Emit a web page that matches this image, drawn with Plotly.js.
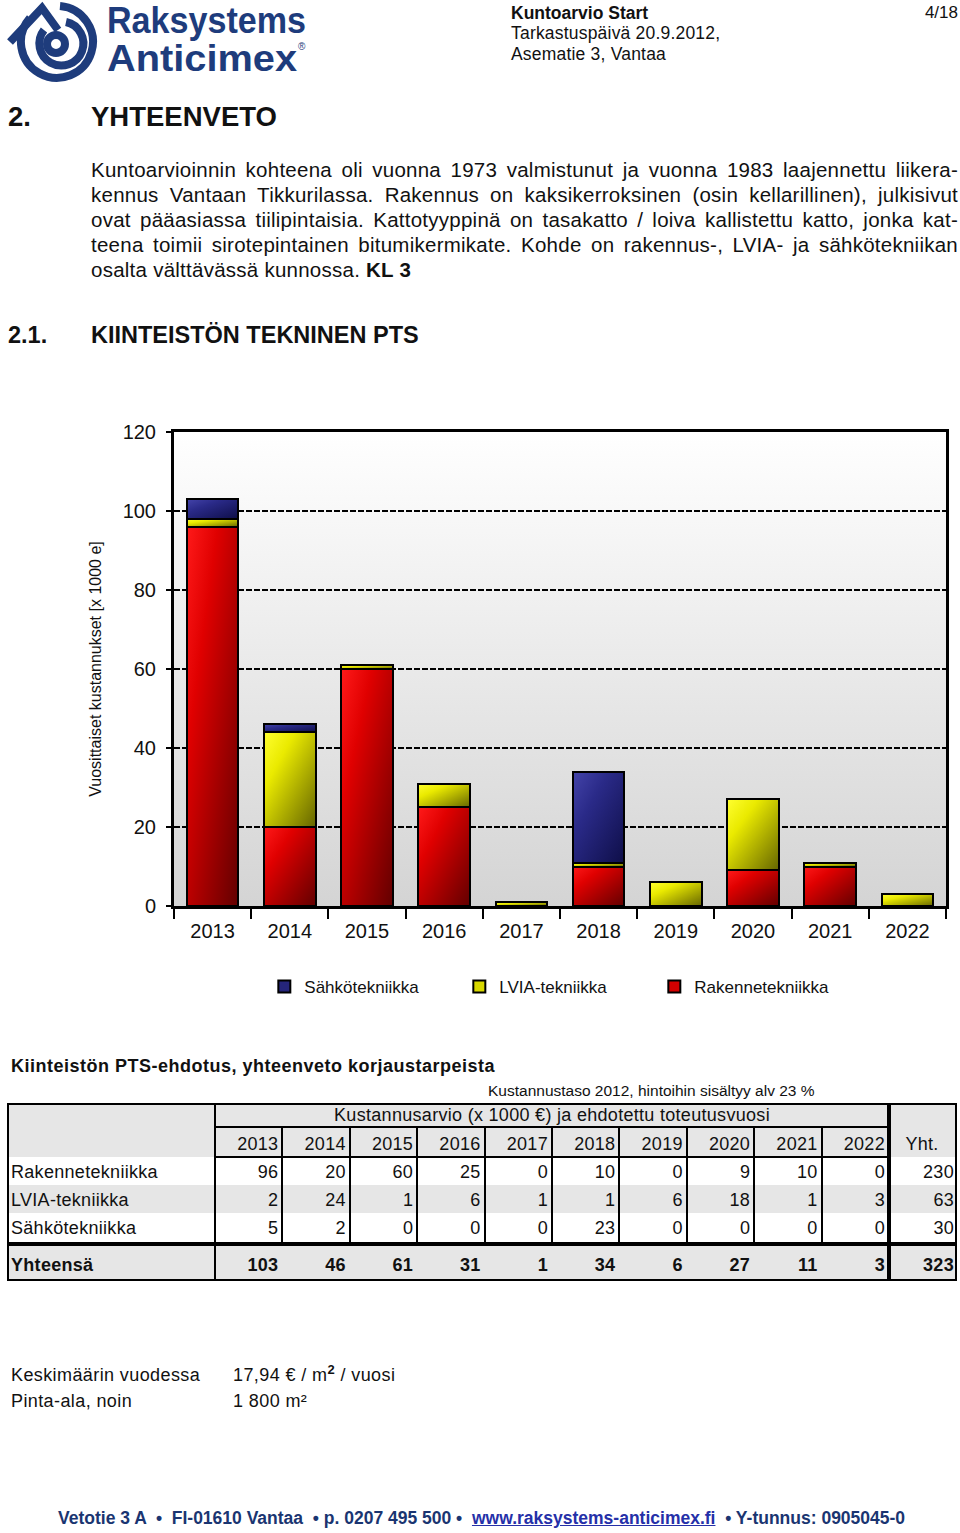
<!DOCTYPE html>
<html>
<head>
<meta charset="utf-8">
<script src="https://cdn.plot.ly/plotly-3.0.1.min.js"></script>
<style>
  html, body { margin:0; padding:0; background:#fff; }
  #page { position:relative; width:960px; height:1533px; overflow:hidden; font-family:"Liberation Sans", Arial, sans-serif; color:#111; }
  .t { position:absolute; white-space:nowrap; }
  .p { position:absolute; left:91px; width:867px; font-size:20.5px; line-height:25px; letter-spacing:0.25px; text-align:justify; text-align-last:justify; white-space:nowrap; }
  #chart { position:absolute; left:0; top:400px; width:960px; height:650px; }
</style>
</head>
<body>
<svg width="0" height="0" style="position:absolute">
  <defs>
    <linearGradient id="gradR" x1="0" y1="0" x2="1" y2="1">
      <stop offset="0" stop-color="#ff1a1a"/>
      <stop offset="0.3" stop-color="#e00000"/>
      <stop offset="1" stop-color="#620000"/>
    </linearGradient>
    <linearGradient id="gradY" x1="0" y1="0" x2="1" y2="1">
      <stop offset="0" stop-color="#ffff30"/>
      <stop offset="0.3" stop-color="#eaea00"/>
      <stop offset="1" stop-color="#656500"/>
    </linearGradient>
    <linearGradient id="gradB" x1="0" y1="0" x2="1" y2="1">
      <stop offset="0" stop-color="#4444aa"/>
      <stop offset="0.35" stop-color="#2a2a88"/>
      <stop offset="1" stop-color="#0e0e48"/>
    </linearGradient>
    <linearGradient id="gradBg" x1="0" y1="0" x2="0" y2="1">
      <stop offset="0" stop-color="#ffffff"/>
      <stop offset="1" stop-color="#d4d4d4"/>
    </linearGradient>
  </defs>
</svg>
<div id="page">
  <!-- logo -->
  <svg class="t" style="left:0;top:0" width="320" height="84">
    <g fill="none" stroke="#1e3c7c" stroke-width="8">
      <path d="M 30 18 A 36 36 0 1 0 60 6"/>
      <path d="M 44 30 A 22 22 0 1 0 66 22"/>
      <circle cx="56" cy="44" r="9"/>
      <path d="M 10 42 L 42 8 L 58 30" stroke-linejoin="miter"/>
    </g>
    <text x="107" y="33" font-family="Liberation Sans, Arial" font-weight="bold" font-size="36" fill="#1e3c7c" textLength="199" lengthAdjust="spacingAndGlyphs">Raksystems</text>
    <text x="107" y="71" font-family="Liberation Sans, Arial" font-weight="bold" font-size="36" fill="#1e3c7c" textLength="190" lengthAdjust="spacingAndGlyphs">Anticimex</text>
    <text x="298" y="50" font-family="Liberation Sans, Arial" font-size="10" fill="#1e3c7c">®</text>
  </svg>

  <div class="t" style="left:511px;top:3px;font-size:17.5px;line-height:20px;font-weight:bold">Kuntoarvio Start</div>
  <div class="t" style="left:511px;top:23px;font-size:17.5px;line-height:20px;letter-spacing:0.2px">Tarkastuspäivä 20.9.2012,</div>
  <div class="t" style="left:511px;top:44px;font-size:17.5px;line-height:20px;letter-spacing:0.2px">Asematie 3, Vantaa</div>
  <div class="t" style="right:2px;top:3px;font-size:17px;line-height:20px">4/18</div>

  <div class="t" style="left:8px;top:100px;font-size:27.5px;line-height:34px;font-weight:bold">2.</div>
  <div class="t" style="left:91px;top:100px;font-size:27.5px;line-height:34px;font-weight:bold">YHTEENVETO</div>

  <div class="p" style="top:157px">Kuntoarvioinnin kohteena oli vuonna 1973 valmistunut ja vuonna 1983 laajennettu liikera-</div>
  <div class="p" style="top:182px">kennus Vantaan Tikkurilassa. Rakennus on kaksikerroksinen (osin kellarillinen), julkisivut</div>
  <div class="p" style="top:207px">ovat pääasiassa tiilipintaisia. Kattotyyppinä on tasakatto / loiva kallistettu katto, jonka kat-</div>
  <div class="p" style="top:232px">teena toimii sirotepintainen bitumikermikate. Kohde on rakennus-, LVIA- ja sähkötekniikan</div>
  <div class="p" style="top:257px;text-align:left;text-align-last:left">osalta välttävässä kunnossa. <b>KL 3</b></div>

  <div class="t" style="left:8px;top:320px;font-size:23.5px;line-height:30px;font-weight:bold">2.1.</div>
  <div class="t" style="left:91px;top:320px;font-size:23.5px;line-height:30px;font-weight:bold">KIINTEISTÖN TEKNINEN PTS</div>

  <div id="chart"></div>

  <div class="t" style="left:11px;top:1055px;font-size:18px;line-height:22px;font-weight:bold;letter-spacing:0.5px">Kiinteistön PTS-ehdotus, yhteenveto korjaustarpeista</div>
  <div class="t" style="left:488px;top:1082px;font-size:15.5px;line-height:18px">Kustannustaso 2012, hintoihin sisältyy alv 23 %</div>
  <div id="table"></div>

  <div class="t" style="left:11px;top:1364px;font-size:18px;line-height:22px;letter-spacing:0.4px">Keskimäärin vuodessa</div>
  <div class="t" style="left:233px;top:1364px;font-size:18px;line-height:22px;letter-spacing:0.4px">17,94 € / m<sup style="font-size:13px;font-weight:bold;line-height:0">2</sup> / vuosi</div>
  <div class="t" style="left:11px;top:1390px;font-size:18px;line-height:22px;letter-spacing:0.4px">Pinta-ala, noin</div>
  <div class="t" style="left:233px;top:1390px;font-size:18px;line-height:22px;letter-spacing:0.4px">1 800 m²</div>

  <div class="t" style="left:58px;top:1507px;font-size:17.5px;line-height:22px;font-weight:bold;color:#1a3571">Vetotie 3 A &nbsp;•&nbsp; FI-01610 Vantaa &nbsp;• p. 0207 495 500 • &nbsp;<span style="color:#2530a8;text-decoration:underline">www.raksystems-anticimex.fi</span> &nbsp;• Y-tunnus: 0905045-0</div>
</div>

<script>
// ---- data ----
const years = ['2013','2014','2015','2016','2017','2018','2019','2020','2021','2022'];
const rakennetekniikka = [96, 20, 60, 25, 0, 10, 0, 9, 10, 0];
const lviaTekniikka    = [2, 24, 1, 6, 1, 1, 6, 18, 1, 3];
const sahkotekniikka   = [5, 2, 0, 0, 0, 23, 0, 0, 0, 0];
const seriesNames = ['Rakennetekniikka', 'LVIA-tekniikka', 'Sähkötekniikka'];
const yTitle = 'Vuosittaiset kustannukset [x 1000 e]';
const tableHeader = 'Kustannusarvio (x 1000 €) ja ehdotettu toteutusvuosi';
const totalLabel = 'Yhteensä';
const sumLabel = 'Yht.';

// ---- chart ----
const FONT = 'Liberation Sans, Arial, sans-serif';
const series = [rakennetekniikka, lviaTekniikka, sahkotekniikka];
const solid = ['#d40000', '#d8d800', '#25257a'];
const grads = ['url(#gradR)', 'url(#gradY)', 'url(#gradB)'];
const traces = series.map((vals, i) => ({
  type: 'bar', x: years, y: vals, name: seriesNames[i],
  marker: { color: solid[i], line: { color: '#000', width: 2 } },
  hoverinfo: 'skip'
}));

const layout = {
  width: 960, height: 650,
  margin: { l: 174, r: 14, t: 32, b: 144 },
  barmode: 'stack', bargap: 0.33,
  paper_bgcolor: 'rgba(0,0,0,0)', plot_bgcolor: '#eeeeee',
  font: { family: FONT, color: '#111', size: 20 },
  showlegend: true,
  legend: {
    orientation: 'h', x: 0.117, xanchor: 'left', y: -0.171, yanchor: 'middle',
    traceorder: 'reversed', font: { size: 17, family: FONT },
    entrywidth: 150, entrywidthmode: 'pixels', bgcolor: 'rgba(0,0,0,0)'
  },
  xaxis: {
    type: 'category', tickson: 'boundaries', ticks: 'outside', ticklen: 10, tickwidth: 2,
    tickcolor: '#000', showline: true, linecolor: '#000', linewidth: 3, mirror: true,
    showgrid: false, tickfont: { size: 20 }, ticklabelstandoff: 5, fixedrange: true
  },
  yaxis: {
    range: [0, 120], dtick: 20, tick0: 0, ticks: 'outside', ticklen: 5, tickwidth: 2, tickcolor: '#000',
    showline: true, linecolor: '#000', linewidth: 3, mirror: true,
    showgrid: true, gridcolor: '#000', gridwidth: 2, griddash: '6px,2px', zeroline: false,
    tickfont: { size: 20 }, ticklabelstandoff: 6,
    title: { text: yTitle, font: { size: 16 }, standoff: 18 }, fixedrange: true
  }
};

Plotly.newPlot('chart', traces, layout, { staticPlot: true, displayModeBar: false }).then(gd => {
  const barTraces = gd.querySelectorAll('.barlayer .trace.bars');
  barTraces.forEach((tr, i) => {
    tr.querySelectorAll('.point path').forEach(p => { p.style.fill = grads[i]; });
  });
  gd.querySelectorAll('rect.bg').forEach(r => {
    if (!r.closest('.legend')) r.style.fill = 'url(#gradBg)';
  });
});

// ---- table ----
const tbl = document.getElementById('table');
const L = 7, R = 957, C0 = 215, CY = 889;
const colW = (CY - C0) / years.length;
const rowsY = { top: 1103, h1: 1127, yr: 1157, r1: 1185, r2: 1213, r3: 1242, tot: 1246, bot: 1281 };
function box(x, y, w, h, bg) {
  const d = document.createElement('div');
  d.style.cssText = `position:absolute;left:${x}px;top:${y}px;width:${w}px;height:${h}px;background:${bg}`;
  tbl.appendChild(d); return d;
}
function text(x, y, w, h, s, align, bold) {
  const d = document.createElement('div');
  d.textContent = s;
  d.style.cssText = `position:absolute;left:${x}px;top:${y}px;width:${w}px;height:${h}px;line-height:${h}px;` +
    `font-size:18px;text-align:${align};white-space:nowrap;letter-spacing:0.3px;${bold ? 'font-weight:bold;' : ''}`;
  tbl.appendChild(d); return d;
}
const GR = '#e6e6e6';
box(L, rowsY.top, R - L, rowsY.yr - rowsY.top, GR);
box(L, rowsY.r1, R - L, rowsY.r2 - rowsY.r1, GR);
box(L, rowsY.tot, R - L, rowsY.bot - rowsY.tot, GR);
box(L, rowsY.top, R - L, 2, '#000');
box(L, rowsY.bot - 2, R - L, 2, '#000');
box(L, rowsY.top, 2, rowsY.bot - rowsY.top, '#000');
box(R - 2, rowsY.top, 2, rowsY.bot - rowsY.top, '#000');
box(C0, rowsY.h1 - 1, CY - C0, 2, '#000');
box(C0, rowsY.yr - 1, CY - C0, 2, '#000');
box(L, rowsY.r3, R - L, 4, '#000');
box(C0 - 1, rowsY.top, 2, rowsY.bot - rowsY.top, '#000');
box(CY - 2, rowsY.top, 4, rowsY.bot - rowsY.top, '#000');
for (let i = 1; i < years.length; i++) {
  box(Math.round(C0 + colW * i) - 1, rowsY.h1, 2, rowsY.r3 - rowsY.h1, '#000');
}
text(C0, rowsY.top + 1, CY - C0, rowsY.h1 - rowsY.top - 1, tableHeader, 'center');
years.forEach((yr, i) => text(C0 + colW * i, rowsY.h1 + 2, colW - 4, rowsY.yr - rowsY.h1, yr, 'right'));
text(CY + 2, rowsY.h1 + 2, R - CY - 6, rowsY.yr - rowsY.h1, sumLabel, 'center');
const rowTops = [rowsY.yr, rowsY.r1, rowsY.r2];
const rowBots = [rowsY.r1, rowsY.r2, rowsY.r3];
series.forEach((vals, r) => {
  const y = rowTops[r] + 1, h = rowBots[r] - rowTops[r];
  text(L + 4, y, C0 - L - 6, h, seriesNames[r], 'left');
  vals.forEach((v, i) => text(C0 + colW * i, y, colW - 4, h, String(v), 'right'));
  text(CY + 2, y, R - CY - 5, h, String(vals.reduce((a, b) => a + b, 0)), 'right');
});
const totals = years.map((_, i) => series.reduce((a, s) => a + s[i], 0));
const ty = rowsY.tot + 3, th = rowsY.bot - rowsY.tot - 2;
text(L + 4, ty, C0 - L - 6, th, totalLabel, 'left', true);
totals.forEach((v, i) => text(C0 + colW * i, ty, colW - 4, th, String(v), 'right', true));
text(CY + 2, ty, R - CY - 5, th, String(totals.reduce((a, b) => a + b, 0)), 'right', true);
</script>
</body>
</html>
